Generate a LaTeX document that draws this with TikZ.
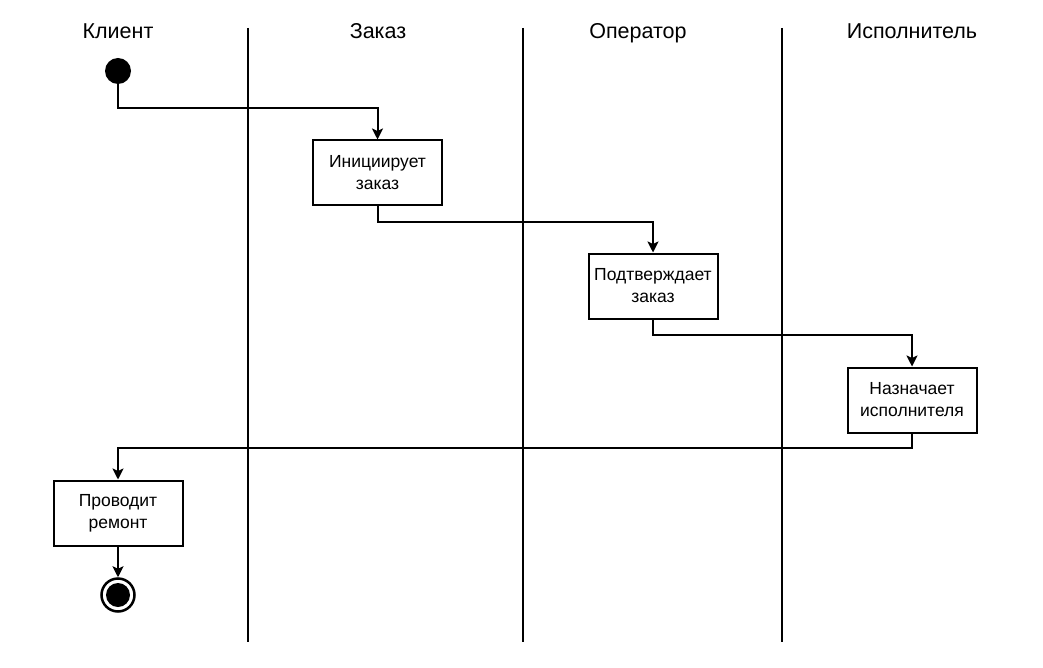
\documentclass[tikz,border=0pt]{standalone}
\usepackage{fontspec}
\setmainfont{Liberation Sans}
\usetikzlibrary{arrows.meta}
\begin{document}
\begin{tikzpicture}[x=1pt,y=-1pt,
  lane/.style={font=\fontsize{21.5}{24}\selectfont,text height=15pt,text depth=4pt,inner sep=0pt},
  act/.style={draw,line width=2pt,minimum width=129pt,minimum height=65pt,align=center,inner sep=2pt,font=\fontsize{17.5}{22}\selectfont},
  flow/.style={line width=2pt,-{Stealth[length=11pt,width=11pt,inset=2.5pt]}},
  sep/.style={line width=2pt}]
\useasboundingbox (0,0) rectangle (1043,668);
\node[lane] (l1) at (118,33.5) {Клиент};
\node[lane] (l2) at (378,33.5) {Заказ};
\node[lane] (l3) at (638,33.5) {Оператор};
\node[lane] (l4) at (912,33.5) {Исполнитель};
\draw[sep] (248,28) -- (248,642);
\draw[sep] (523,28) -- (523,642);
\draw[sep] (782,28) -- (782,642);
\node[circle,fill=black,minimum size=26pt,inner sep=0] (start) at (118,71) {};
\node[act] (a1) at (377.5,173) {Инициирует\\заказ};
\node[act] (a2) at (653,286) {Подтверждает\\заказ};
\node[act] (a3) at (912,400) {Назначает\\исполнителя};
\node[act] (a4) at (118,513) {Проводит\\ремонт};
\node[circle,draw,line width=2.5pt,minimum size=33pt,inner sep=0] (end) at (118,595) {};
\node[circle,fill=black,minimum size=24pt,inner sep=0] (endin) at (118,595) {};
\draw[flow] (start.south) -- (118,108) -| (a1.north);
\draw[flow] (a1.south) -- (377.5,222) -| (a2.north);
\draw[flow] (a2.south) -- (653,335) -| (a3.north);
\draw[flow] (a3.south) -- (912,448) -| (a4.north);
\draw[flow] (a4.south) -- (end.north);
\end{tikzpicture}
\end{document}
